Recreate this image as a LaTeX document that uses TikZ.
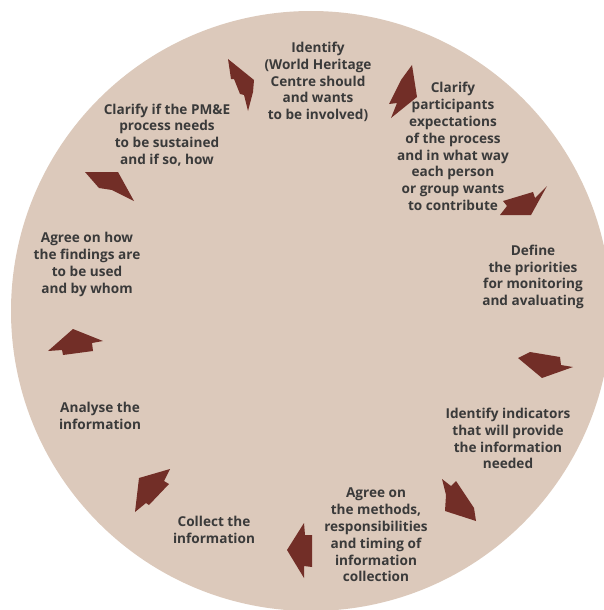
\documentclass[tikz,border=0pt]{standalone}
\usepackage{fontspec}
\setmainfont{Open Sans}
\definecolor{disc}{HTML}{DCC9BB}
\definecolor{arr}{HTML}{722E27}
\definecolor{txt}{HTML}{3A3A3A}
\begin{document}
\begin{tikzpicture}[x=1pt,y=-1pt,
  step text/.style={align=center, text=txt, font=\fontsize{13.6}{16.8}\selectfont\bfseries, inner sep=0pt},
  blockarrow/.style={fill=arr, draw=none}]
\useasboundingbox (0,0) rectangle (604,610);
\clip (0,0) rectangle (604,610);
\fill[disc] (311,311) circle[radius=300];
% texts
\node[step text] (s1) at (318,82) {Identify\\(World Heritage\\Centre should\\and wants\\to be involved)};
\node[step text] (s2) at (453,146.5) {Clarify\\participants\\expectations\\of the process\\and in what way\\each person\\or group wants\\to contribute};
\node[step text] (s3) at (533,277) {Define\\the priorities\\for monitoring\\and avaluating};
\node[step text] (s4) at (508,438.5) {Identify indicators\\that will provide\\the information\\needed};
\node[step text] (s5) at (376,535) {Agree on\\the methods,\\responsibilities\\and timing of\\information\\collection};
\node[step text] (s6) at (214,529.5) {Collect the\\information};
\node[step text] (s7) at (100,415.5) {Analyse the\\information};
\node[step text] (s8) at (87,264.5) {Agree on how\\the findings are\\to be used\\and by whom};
\node[step text] (s9) at (167,135) {Clarify if the PM\&E\\process needs\\to be sustained\\and if so, how};
% arrows
\fill[blockarrow] (228,59) -- (254,80) -- (253,92) -- (248,111) -- (244,95) -- (240,94) -- (234,79) -- (231,79) -- cycle;
\fill[blockarrow] (412,65) -- (417,97) -- (391,118) -- (397,103) -- (389,104) -- (401,80) -- cycle;
\fill[blockarrow] (547,186) -- (531,215) -- (500,215) -- (507,206) -- (503,201) -- (533,192) -- (535,198) -- cycle;
\fill[blockarrow] (518,358) -- (530,352) -- (560,357) -- (561,365) -- (573,367) -- (542,378) -- cycle;
\fill[blockarrow] (442,479) -- (451,486) -- (456,481) -- (474,508) -- (476,521) -- (445,511) -- (446,495) -- cycle;
\fill[blockarrow] (287,550) -- (304,523) -- (305,535) -- (312,535) -- (312,567) -- (304,566) -- (304,578) -- cycle;
\fill[blockarrow] (139,478) -- (170,469) -- (164,481) -- (169,484) -- (149,505) -- (146,503) -- (135,512) -- cycle;
\fill[blockarrow] (48,351) -- (73,329) -- (103,341) -- (92,343) -- (93,351) -- (63,355) -- (62,350) -- cycle;
\fill[blockarrow] (85,172) -- (118,172) -- (134,201) -- (112,190) -- (99,188) -- cycle;
\end{tikzpicture}
\end{document}
